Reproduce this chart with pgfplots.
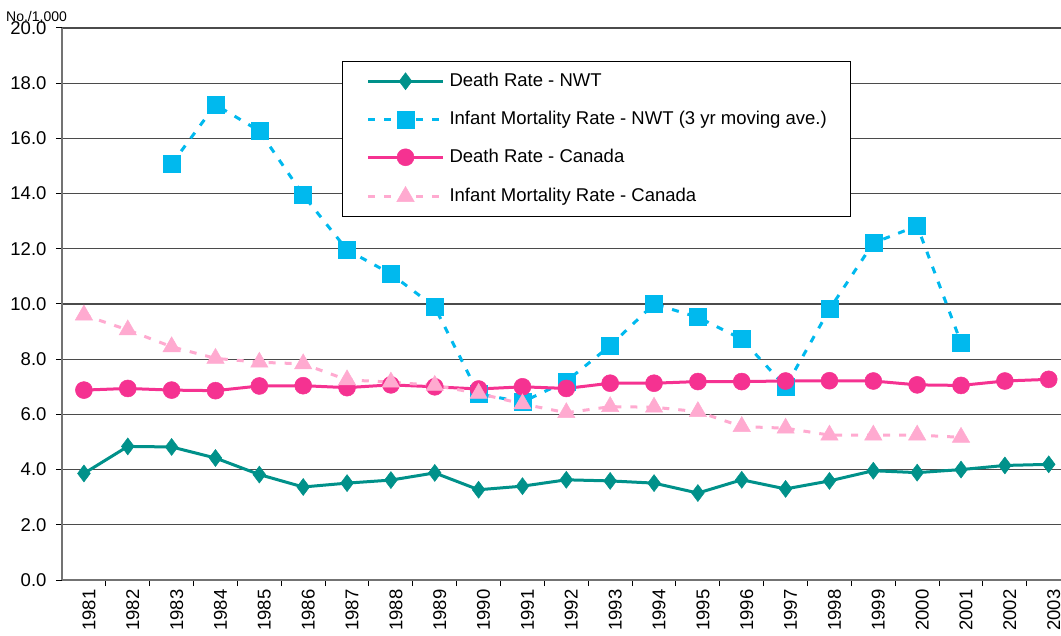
\documentclass[border=0pt]{standalone}
\usepackage{pgfplots}
\pgfplotsset{compat=1.18}
\usepackage{fontspec}
\setmainfont{Liberation Sans}
\definecolor{cteal}{RGB}{0,145,138}
\definecolor{cblue}{RGB}{0,185,238}
\definecolor{cpink}{RGB}{245,50,145}
\definecolor{clpink}{RGB}{255,170,208}
\definecolor{cgrid}{RGB}{75,75,75}
\begin{document}
\begin{tikzpicture}
\useasboundingbox (-62pt,-55pt) rectangle (999pt,580pt);
\begin{axis}[
  at={(0pt,0pt)}, anchor=south west,
  scale only axis, width=999pt, height=552pt,
  xmin=-0.5, xmax=22.28, ymin=0, ymax=20,
  axis x line=bottom, axis y line=left,
  axis line style={-, draw=gray!90!black, line width=1.3pt},
  xtick={0,...,22},
  xticklabels={1981,1982,1983,1984,1985,1986,1987,1988,1989,1990,1991,1992,1993,1994,1995,1996,1997,1998,1999,2000,2001,2002,2003},
  x tick label style={rotate=90, anchor=east, font=\fontsize{18.5}{20}\selectfont, yshift=-5pt},
  major x tick style={draw=none},
  minor xtick={0.5,1.5,...,21.5},
  minor tick length=6pt,
  minor x tick style={draw=black, line width=1pt},
  ytick={0,2,...,20},
  ymajorgrids, major grid style={draw=cgrid, line width=1.3pt},
  y tick style={draw=black, line width=1pt},
  major tick length=6pt,
  tick align=outside,
  xtick pos=bottom, ytick pos=left,
  y tick label style={font=\fontsize{18.5}{20}\selectfont, xshift=-6pt,
    /pgf/number format/fixed, /pgf/number format/fixed zerofill, /pgf/number format/precision=1, /pgf/number format/assume math mode=true},
  clip=false,
  legend style={at={(rel axis cs:0.2803,0.9402)}, anchor=north west, draw=black, line width=1pt,
    font=\fontsize{18.5}{20}\selectfont, inner xsep=24pt, inner ysep=11pt, row sep=20.5pt,
    nodes={inner sep=0pt, text height=13.5pt, text depth=4pt}},
  legend cell align=left,
  legend image code/.code={\draw[#1, mark repeat=2, mark phase=2] plot coordinates {(0pt,0pt) (37.5pt,0pt) (75pt,0pt)}; \path (80pt,0pt);},
]
\addplot[cteal, line width=3pt, mark=diamond*, mark size=8.5pt, mark options={solid, fill=cteal, draw=cteal, line width=0.5pt}] coordinates {
(0,3.86) (1,4.84) (2,4.82) (3,4.42) (4,3.82) (5,3.37) (6,3.51) (7,3.62) (8,3.88) (9,3.27) (10,3.4) (11,3.63) (12,3.59) (13,3.51) (14,3.15) (15,3.63) (16,3.3) (17,3.59) (18,3.96) (19,3.89) (20,4.0) (21,4.15) (22,4.19)};
\addlegendentry{Death Rate - NWT}
\addplot[cblue, line width=3pt, dash pattern=on 7pt off 9pt, mark=square*, mark size=8.5pt, mark options={solid, fill=cblue, draw=cblue, line width=0.5pt}] coordinates {
(2,15.07) (3,17.22) (4,16.27) (5,13.95) (6,11.96) (7,11.09) (8,9.89) (9,6.74) (10,6.45) (11,7.2) (12,8.49) (13,10.0) (14,9.52) (15,8.73) (16,7.0) (17,9.81) (18,12.21) (19,12.83) (20,8.6)};
\addlegendentry{Infant Mortality Rate - NWT (3 yr moving ave.)}
\addplot[cpink, line width=3pt, mark=*, mark size=8.5pt, mark options={solid, fill=cpink, draw=cpink, line width=0.5pt}] coordinates {
(0,6.88) (1,6.94) (2,6.88) (3,6.86) (4,7.03) (5,7.04) (6,6.97) (7,7.07) (8,7.0) (9,6.92) (10,7.0) (11,6.94) (12,7.13) (13,7.13) (14,7.19) (15,7.19) (16,7.21) (17,7.22) (18,7.21) (19,7.07) (20,7.05) (21,7.21) (22,7.27)};
\addlegendentry{Death Rate - Canada}
\addplot[clpink, line width=3pt, dash pattern=on 7pt off 9pt, mark=triangle*, mark size=10pt, mark options={solid, fill=clpink, draw=clpink, line width=0.5pt}] coordinates {
(0,9.6) (1,9.06) (2,8.45) (3,8.03) (4,7.89) (5,7.83) (6,7.25) (7,7.17) (8,7.05) (9,6.76) (10,6.38) (11,6.06) (12,6.28) (13,6.26) (14,6.1) (15,5.56) (16,5.5) (17,5.25) (18,5.25) (19,5.25) (20,5.17)};
\addlegendentry{Infant Mortality Rate - Canada}
\node[anchor=base west, font=\fontsize{14}{16}\selectfont, inner sep=0pt] at ([xshift=-56pt,yshift=6.3pt]rel axis cs:0,1) {No./1,000};
\end{axis}
\end{tikzpicture}
\end{document}
